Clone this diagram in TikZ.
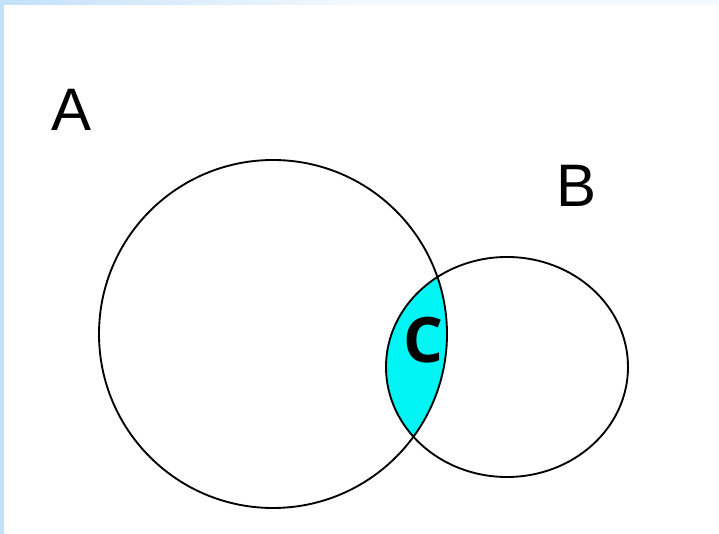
\documentclass[tikz,border=0pt]{standalone}
\usepackage{fontspec}
\setmainfont{Liberation Sans}
\newfontfamily\lensfont{Open Sans}
\usetikzlibrary{shapes.geometric}
\definecolor{lenscyan}{HTML}{00F4F4}
\definecolor{bandblue}{HTML}{C3E1FA}
\definecolor{bandpale}{HTML}{F4F9FE}
\tikzstyle{setline} = [
    draw=black,
    line width=1.4pt,
    inner sep=0pt
]
\tikzstyle{setlabel} = [
    inner sep=0pt,
    font=\fontsize{45}{54}\selectfont
]
\begin{document}
\begin{tikzpicture}[x=0.75pt, y=-0.75pt]
\useasboundingbox (0,0) rectangle (719,534);
\fill[white] (0,0) rectangle (719,534);

% frame
\shade[left color=bandblue, right color=bandpale] (0,0) rectangle (360,5);
\fill[bandpale] (360,0) rectangle (719,5);
\fill[bandblue] (0,0) rectangle (4,534);

% common part
\begin{scope}
\clip (273,334) circle [radius=174];
\fill[lenscyan] (507,367) ellipse [x radius=121, y radius=110];
\end{scope}

\node (setA) [setline, circle, minimum size=261pt] at (273,334) {};
\node (setB) [setline, ellipse, minimum width=181.5pt, minimum height=165pt] at (507,367) {};

\node (labelA) [setlabel] at (72,110) {A};
\node (labelB) [setlabel] at (577,186) {B};
\node (labelC) [setlabel, font=\lensfont\bfseries\fontsize{47}{56}\selectfont] at (423,340) {C};

\end{tikzpicture}
\end{document}
